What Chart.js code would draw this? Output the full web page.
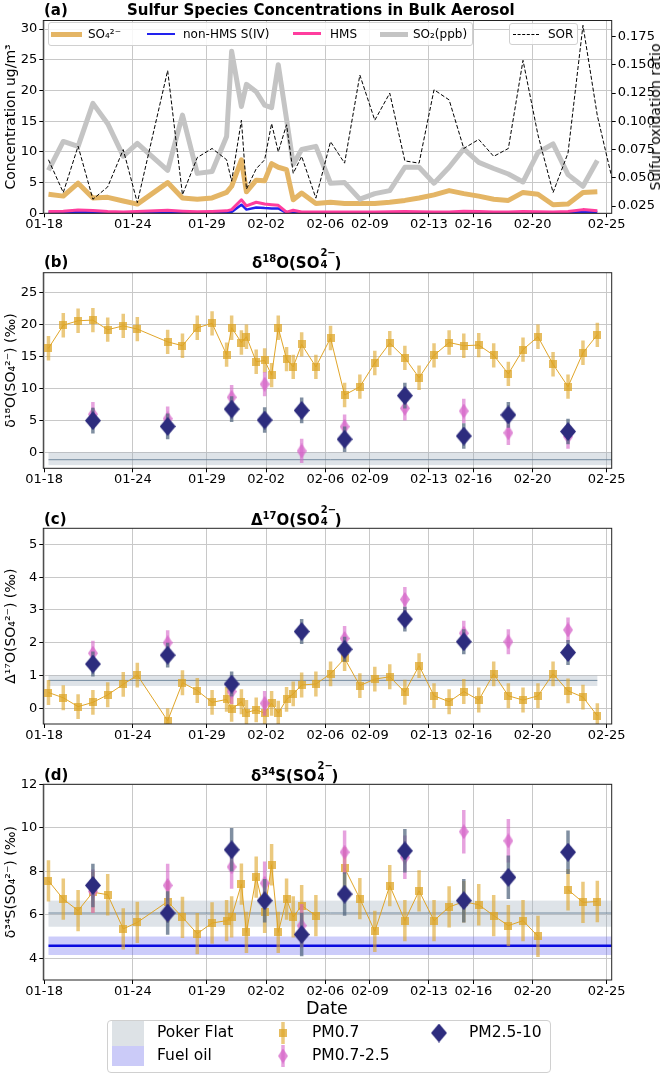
<!DOCTYPE html>
<html>
<head>
<meta charset="utf-8">
<script src="https://cdn.jsdelivr.net/npm/chart.js@4.4.1/dist/chart.umd.min.js"></script>
<style>
  body { margin: 0; background: #fff; font-family: 'DejaVu Sans', sans-serif; color: #000; }
  #page { position: relative; width: 666px; height: 1074px; overflow: hidden; }
  .cv { position: absolute; left: 0; }
  .t { position: absolute; line-height: 1; transform: translateY(-50%); white-space: nowrap; }
  .b15 { font-weight: bold; font-size: 15px; }
  .f12 { font-size: 12px; }
  .f15 { font-size: 15.5px; }
  .box { position: absolute; box-sizing: border-box; background: rgba(255,255,255,0.85); border: 1px solid #d0d0d0; border-radius: 3px; }
  .sw { position: absolute; }
  .sup { font-size: 10px; position: relative; top: -6px; }
  .stk { display: inline-block; position: relative; width: 15px; height: 1em; }
  .stk span { position: absolute; left: 1px; font-size: 10px; }
</style>
</head>
<body>
<div id="page">
  <canvas id="chA" class="cv" width="666" height="235" style="top:0"></canvas>
  <canvas id="chB" class="cv" width="666" height="235" style="top:250px"></canvas>
  <canvas id="chC" class="cv" width="666" height="235" style="top:505px"></canvas>
  <canvas id="chD" class="cv" width="666" height="250" style="top:760px"></canvas>

  <!-- panel titles -->
  <div class="t b15" style="left:44px;top:10px">(a)</div>
  <div class="t b15" style="left:127px;top:10px">Sulfur Species Concentrations in Bulk Aerosol</div>
  <div class="t b15" style="left:44px;top:262px">(b)</div>
  <div class="t b15" style="left:252px;top:262px">δ<span class="sup">18</span>O(SO<span class="stk"><span style="top:-5px">2−</span><span style="top:7px">4</span></span>)</div>
  <div class="t b15" style="left:44px;top:519px">(c)</div>
  <div class="t b15" style="left:251px;top:519px">Δ<span class="sup">17</span>O(SO<span class="stk"><span style="top:-5px">2−</span><span style="top:7px">4</span></span>)</div>
  <div class="t b15" style="left:44px;top:775px">(d)</div>
  <div class="t b15" style="left:251px;top:775px">δ<span class="sup">34</span>S(SO<span class="stk"><span style="top:-5px">2−</span><span style="top:7px">4</span></span>)</div>

  <!-- right axis label of panel (a) -->
  <div class="t" style="left:655px;top:117px;font-size:14px;transform:translate(-50%,-50%) rotate(-90deg)">Sulfur oxidation ratio</div>

  <!-- legend of panel (a) -->
  <div class="box" style="left:48px;top:22px;width:425px;height:24px"></div>
  <div class="sw" style="left:51px;top:31.5px;width:31px;height:5px;background:#e4b565"></div>
  <div class="t f12" style="left:88px;top:34px">SO₄²⁻</div>
  <div class="sw" style="left:147px;top:32.5px;width:28px;height:2.5px;background:#2222ee"></div>
  <div class="t f12" style="left:183px;top:34px">non-HMS S(IV)</div>
  <div class="sw" style="left:293px;top:32px;width:28px;height:3px;background:#ff3d9e"></div>
  <div class="t f12" style="left:330px;top:34px">HMS</div>
  <div class="sw" style="left:380px;top:31.5px;width:28px;height:5px;background:#c4c4c4"></div>
  <div class="t f12" style="left:413px;top:34px">SO₂(ppb)</div>
  <div class="box" style="left:509px;top:23px;width:69px;height:22px"></div>
  <div class="sw" style="left:513px;top:33.5px;width:26px;height:0;border-top:1px dashed #000"></div>
  <div class="t f12" style="left:548px;top:34px">SOR</div>

  <!-- x label and bottom legend -->
  <div class="t" style="left:306px;top:1009px;font-size:17.5px">Date</div>
  <div class="box" style="left:107px;top:1020px;width:444px;height:53px;border-radius:4px"></div>
  <div class="sw" style="left:112px;top:1021px;width:32px;height:25px;background:#dde2e6"></div>
  <div class="sw" style="left:112px;top:1046px;width:32px;height:20px;background:#cbcbf8"></div>
  <div class="t f15" style="left:157px;top:1033px">Poker Flat</div>
  <div class="t f15" style="left:157px;top:1056px">Fuel oil</div>
  <canvas id="lgFine" width="24" height="26" style="position:absolute;left:271px;top:1020px"></canvas>
  <canvas id="lgMid" width="24" height="26" style="position:absolute;left:271px;top:1043px"></canvas>
  <canvas id="lgCoarse" width="24" height="26" style="position:absolute;left:427px;top:1020px"></canvas>
  <div class="t f15" style="left:312px;top:1033px">PM0.7</div>
  <div class="t f15" style="left:312px;top:1056px">PM0.7-2.5</div>
  <div class="t f15" style="left:469px;top:1033px">PM2.5-10</div>
</div>

<script>
// ---- data (x = days after 01-18) ----
const DAYS = [0.3, 1.3, 2.3, 3.3, 4.3, 5.35, 6.3, 8.35, 9.35, 10.35, 11.35, 12.33, 12.67, 13.33, 13.67,
  14.33, 14.9, 15.37, 15.82, 16.38, 16.83, 17.4, 18.36, 19.35, 20.3, 21.33, 22.34, 23.35, 24.37, 25.33,
  26.34, 27.36, 28.35, 29.36, 30.37, 31.36, 32.35, 33.36, 34.38, 35.39, 36.4, 37.37, 38.37];
const TICK_DAYS = [0, 6, 11, 15, 19, 22, 26, 29, 33, 38];
const TICK_LABELS = ['01-18', '01-24', '01-29', '02-02', '02-06', '02-09', '02-13', '02-16', '02-20', '02-25'];

// panel (a)
const SO4 = [3.1, 2.8, 4.9, 2.5, 2.6, 2.0, 1.5, 5.0, 2.5, 2.3, 2.5, 3.4, 4.4, 8.7, 3.5, 5.4, 5.3, 8.1, 7.5, 7.1,
  2.2, 3.3, 1.6, 1.8, 1.6, 1.6, 1.6, 1.8, 2.1, 2.5, 3.0, 3.7, 3.2, 2.8, 2.3, 2.1, 3.4, 3.1, 1.4, 1.5, 3.4, 3.5, null];
const NON_HMS = [0.1, 0.1, 0.2, 0.15, 0.05, 0.05, 0.1, 0.15, 0.1, 0.05, 0.05, 0.1, 0.2, 1.4, 0.6, 0.95, 0.85, 0.8, 0.8, 0.05,
  0.2, 0.05, 0.05, 0.05, 0.05, 0.05, 0.05, 0.05, 0.1, 0.05, 0.05, 0.05, 0.1, 0.1, 0.05, 0.05, 0.1, 0.05, 0.05, 0.1, 0.3, 0.2, null];
const HMS = [0.3, 0.35, 0.55, 0.45, 0.3, 0.2, 0.3, 0.5, 0.35, 0.25, 0.3, 0.4, 0.6, 2.2, 1.2, 1.8, 1.5, 1.4, 1.3, 0.2,
  0.5, 0.2, 0.2, 0.2, 0.2, 0.2, 0.2, 0.25, 0.3, 0.25, 0.2, 0.2, 0.35, 0.3, 0.2, 0.2, 0.3, 0.25, 0.2, 0.3, 0.6, 0.4, null];
const SO2 = [7.0, 11.7, 10.9, 17.9, 14.6, 9.3, 11.4, 7.0, 16.0, 6.5, 6.8, 12.5, 26.4, 17.4, 21.0, 19.8, 17.6, 17.2, 24.2, 15.3,
  8.0, 10.4, 10.9, 4.9, 5.0, 2.3, 3.2, 3.7, 7.5, 7.5, 4.9, 7.5, 10.5, 8.3, 7.3, 6.4, 5.1, 9.9, 11.3, 6.3, 4.4, 8.6, null];
const SOR = [0.066, 0.037, 0.078, 0.031, 0.042, 0.075, 0.028, 0.145, 0.035, 0.068, 0.076, 0.066, 0.047, 0.101, 0.040,
  0.058, 0.066, 0.098, 0.073, 0.097, 0.054, 0.069, 0.032, 0.082, 0.063, 0.141, 0.101, 0.125, 0.065, 0.063,
  0.128, 0.119, 0.076, 0.084, 0.069, 0.076, 0.154, 0.088, 0.037, 0.072, 0.185, 0.105, 0.049];

// PM0.7 isotopes (same sampling days)
const PM07_D18O = [16.3, 19.9, 20.6, 20.7, 19.2, 19.8, 19.3, 17.3, 16.7, 19.5, 20.2, 15.3, 19.5, 17.2, 18.1, 14.2, 14.4,
  12.1, 19.5, 14.6, 13.4, 16.9, 13.4, 17.9, 9.0, 10.3, 14.0, 17.1, 14.8, 11.7, 15.2, 17.2, 16.7, 16.8, 15.2, 12.3,
  16.1, 18.1, 13.8, 10.3, 15.6, 18.4, null];
const PM07_D17O = [0.48, 0.32, 0.05, 0.18, 0.41, 0.73, 1.01, -0.38, 0.78, 0.54, 0.18, 0.27, -0.03, 0.2, -0.13, -0.05,
  -0.15, 0.15, -0.15, 0.27, 0.44, 0.71, 0.74, 1.05, 1.52, 0.69, 0.89, 0.96, 0.49, 1.3, 0.38, 0.2, 0.51, 0.25, 1.05,
  0.38, 0.25, 0.38, 1.05, 0.53, 0.34, -0.23, null];
const PM07_D34S = [7.56, 6.72, 6.19, 7.04, 6.92, 5.35, 5.65, 6.61, 5.88, 5.13, 5.62, 5.73, 5.9, 7.41, 5.19, 7.73, 6.11,
  8.3, 5.19, 6.72, 5.9, 6.42, 5.96, null, 8.15, 6.74, 5.24, 7.34, 5.73, 7.1, 5.73, 6.36, 6.6, 6.46, 5.96, 5.5, 5.73,
  5.01, null, 7.15, 6.57, 6.61, null];

// coarse fractions
const COARSE_DAYS = [3.3, 8.35, 12.67, 14.9, 17.4, 20.3, 24.37, 28.35, 31.36, 35.39];
const PM0725_D18O = [6.0, 5.3, 8.65, 10.7, 0.27, 4.06, 6.93, 6.5, 3.1, 2.5];
const PM2510_D18O = [5.0, 4.1, 6.8, 5.1, 6.6, 2.1, 8.9, 2.6, 5.9, 3.3];
const PM0725_D17O = [1.68, 2.0, 0.51, 0.15, null, 2.13, 3.32, 2.29, 2.03, 2.39];
const PM2510_D17O = [1.35, 1.62, 0.74, null, 2.34, 1.8, 2.72, 2.03, null, 1.7];
const PM0725_D34S = [7.08, 7.35, 8.2, 7.45, 5.5, 8.88, 8.65, 9.82, 9.4, null];
const PM2510_D34S = [7.35, 6.08, 8.99, 6.65, 5.09, 6.95, 8.94, 6.65, 7.72, 8.88];

// reference ranges [low, mean, high]
const POKER_D18O = [-1.95, -1.1, 0.05];
const POKER_D17O = [0.68, 0.85, 1.0];
const POKER_D34S = [5.45, 6.08, 6.65];
const FUEL_D34S = [4.15, 4.58, 5.0];

// axis ticks
const CONC_TICKS = [0, 5, 10, 15, 20, 25, 30];
const SOR_TICKS = [0.025, 0.05, 0.075, 0.1, 0.125, 0.15, 0.175];
const D18O_TICKS = [0, 5, 10, 15, 20, 25];
const D17O_TICKS = [0, 1, 2, 3, 4, 5];
const D34S_TICKS = [4, 6, 8, 10, 12];

// ---- drawing ----
Chart.defaults.font.family = "'DejaVu Sans', sans-serif";
Chart.defaults.font.size = 13;
Chart.defaults.color = '#000';

const X_MIN = -0.05, X_MAX = 38.34;
const LEFT_W = 43.3, RIGHT_W = 54.3;
const GRID = '#c8c8c8';

function pts(xs, ys) { return xs.map((x, i) => ({ x: x, y: ys[i] })); }
function fixedTicks(vals) { return s => { s.ticks = vals.map(v => ({ value: v })); }; }

function marker(w, h, fill, shape) {
  const c = document.createElement('canvas');
  c.width = w; c.height = h;
  const g = c.getContext('2d');
  g.fillStyle = fill;
  if (shape === 'square') {
    g.fillRect(0, 0, w, h);
  } else {
    g.beginPath();
    g.moveTo(w / 2, 0); g.lineTo(w, h / 2); g.lineTo(w / 2, h); g.lineTo(0, h / 2);
    g.closePath(); g.fill();
  }
  return c;
}
const SQ_MK = marker(8, 8, 'rgba(222,165,40,0.75)', 'square');
const PINK_MK = marker(10, 15, 'rgba(214,100,200,0.75)', 'diamond');
const NAVY_MK = marker(16, 19, '#2d2c7e', 'diamond');
const FINE_ERR = 'rgba(222,165,40,0.6)';
const MID_ERR = 'rgba(214,100,200,0.6)';
const COARSE_ERR = 'rgba(85,105,130,0.75)';

// vertical error bars, drawn just before each dataset
const errorBars = {
  id: 'errorBars',
  beforeDatasetDraw(chart, args) {
    const ds = chart.data.datasets[args.index];
    if (!ds.errHalf) return;
    const { ctx, chartArea: a } = chart;
    const y = chart.scales.y;
    ctx.save();
    ctx.beginPath();
    ctx.rect(a.left, a.top, a.right - a.left, a.bottom - a.top);
    ctx.clip();
    ctx.strokeStyle = ds.errColor;
    ctx.lineWidth = 3.5;
    args.meta.data.forEach((p, i) => {
      const v = ds.data[i].y;
      if (v === null) return;
      ctx.beginPath();
      ctx.moveTo(p.x, y.getPixelForValue(v - ds.errHalf));
      ctx.lineTo(p.x, y.getPixelForValue(v + ds.errHalf));
      ctx.stroke();
    });
    ctx.restore();
  }
};

// shaded reference ranges
const bands = {
  id: 'bands',
  beforeDatasetsDraw(chart, args, opts) {
    const list = opts.list || [];
    const { ctx, chartArea: a, scales: { x, y } } = chart;
    ctx.save();
    ctx.beginPath();
    ctx.rect(a.left, a.top, a.right - a.left, a.bottom - a.top);
    ctx.clip();
    list.forEach(b => {
      const x0 = x.getPixelForValue(b.from), x1 = x.getPixelForValue(b.to);
      const yl = y.getPixelForValue(b.range[0]), ym = y.getPixelForValue(b.range[1]), yh = y.getPixelForValue(b.range[2]);
      ctx.fillStyle = b.fill;
      ctx.fillRect(x0, yh, x1 - x0, yl - yh);
      ctx.strokeStyle = b.line;
      ctx.lineWidth = b.width;
      ctx.beginPath(); ctx.moveTo(x0, ym); ctx.lineTo(x1, ym); ctx.stroke();
    });
    ctx.restore();
  }
};

// four spines
const frame = {
  id: 'frame',
  afterDraw(chart) {
    const { ctx, chartArea: a } = chart;
    ctx.save();
    ctx.strokeStyle = '#222';
    ctx.lineWidth = 1;
    ctx.strokeRect(a.left, a.top, a.right - a.left, a.bottom - a.top);
    ctx.restore();
  }
};

function xScale(h) {
  return {
    type: 'linear', min: X_MIN, max: X_MAX,
    afterBuildTicks: fixedTicks(TICK_DAYS),
    afterFit: s => { s.height = h; },
    ticks: { callback: (v, i) => TICK_LABELS[i], maxRotation: 0, autoSkip: false, padding: 0 },
    grid: { color: GRID, tickColor: '#000', tickLength: 4 },
    border: { display: false }
  };
}

function yScale(min, max, ticks, title) {
  return {
    type: 'linear', position: 'left', min: min, max: max,
    afterBuildTicks: fixedTicks(ticks),
    afterFit: s => { s.width = LEFT_W; },
    ticks: { padding: 2 },
    grid: { color: GRID, tickColor: '#000', tickLength: 4 },
    border: { display: false },
    title: { display: true, text: title, font: { size: 14 }, padding: { top: 3, bottom: 0 } }
  };
}

const basePlugins = { legend: { display: false }, tooltip: { enabled: false } };

// panel (a)
new Chart(document.getElementById('chA'), {
  type: 'line',
  data: {
    datasets: [
      { data: pts(DAYS, SOR), yAxisID: 'y1', borderColor: '#000', borderWidth: 1, borderDash: [4, 2], pointRadius: 0 },
      { data: pts(DAYS, SO2), yAxisID: 'y', borderColor: '#c4c4c4', borderWidth: 5, pointRadius: 0 },
      { data: pts(DAYS, HMS), yAxisID: 'y', borderColor: '#ff3d9e', borderWidth: 3, pointRadius: 0 },
      { data: pts(DAYS, NON_HMS), yAxisID: 'y', borderColor: '#2222ee', borderWidth: 2.5, pointRadius: 0 },
      { data: pts(DAYS, SO4), yAxisID: 'y', borderColor: '#e4b565', borderWidth: 5, pointRadius: 0 }
    ]
  },
  options: {
    responsive: false, animation: false,
    borderJoinStyle: 'round',
    layout: { padding: { top: 20.5, left: 0, right: 0, bottom: 0 } },
    plugins: basePlugins,
    elements: { line: { borderJoinStyle: 'round', tension: 0 } },
    scales: {
      x: xScale(235 - 213.3),
      y: yScale(0, 31.4, CONC_TICKS, 'Concentration ug/m³'),
      y1: {
        type: 'linear', position: 'right', min: 0.0186, max: 0.1893,
        afterBuildTicks: fixedTicks(SOR_TICKS),
        afterFit: s => { s.width = RIGHT_W; },
        ticks: { padding: 2, callback: v => v.toFixed(3) },
        grid: { drawOnChartArea: false, tickColor: '#000', tickLength: 4 },
        border: { display: false }
      }
    }
  },
  plugins: [frame]
});

function isoPanel(id, h, bottom, o) {
  return new Chart(document.getElementById(id), {
    type: 'line',
    data: {
      datasets: [
        { data: pts(COARSE_DAYS, o.coarse), showLine: false, pointStyle: NAVY_MK, pointRadius: 5,
          errHalf: o.coarseErr, errColor: COARSE_ERR },
        { data: pts(COARSE_DAYS, o.mid), showLine: false, pointStyle: PINK_MK, pointRadius: 5,
          errHalf: o.midErr, errColor: MID_ERR },
        { data: pts(DAYS, o.fine), borderColor: 'rgba(222,160,30,0.95)', borderWidth: 1, pointStyle: SQ_MK,
          pointRadius: 5, spanGaps: false, errHalf: o.fineErr, errColor: FINE_ERR }
      ]
    },
    options: {
      responsive: false, animation: false,
      layout: { padding: { top: o.top, left: 0, right: RIGHT_W, bottom: 0 } },
      plugins: Object.assign({ bands: { list: o.bands } }, basePlugins),
      elements: { line: { tension: 0 } },
      scales: {
        x: xScale(h - bottom),
        y: yScale(o.min, o.max, o.ticks, o.title)
      }
    },
    plugins: [bands, errorBars, frame]
  });
}

const POKER_FILL = 'rgba(160,176,188,0.35)';
const POKER_LINE = 'rgba(105,130,152,0.9)';

isoPanel('chB', 235, 218.3, {
  top: 22.7, min: -2.44, max: 28.1, ticks: D18O_TICKS, title: 'δ¹⁸O(SO₄²⁻) (‰)',
  fine: PM07_D18O, mid: PM0725_D18O, coarse: PM2510_D18O, fineErr: 1.9, midErr: 1.9, coarseErr: 2.0,
  bands: [{ range: POKER_D18O, from: DAYS[0], to: DAYS[DAYS.length - 1], fill: POKER_FILL, line: POKER_LINE, width: 1 }]
});
isoPanel('chC', 235, 219, {
  top: 23.3, min: -0.48, max: 5.49, ticks: D17O_TICKS, title: 'Δ¹⁷O(SO₄²⁻) (‰)',
  fine: PM07_D17O, mid: PM0725_D17O, coarse: PM2510_D17O, fineErr: 0.38, midErr: 0.38, coarseErr: 0.38,
  bands: [{ range: POKER_D17O, from: DAYS[0], to: DAYS[DAYS.length - 2], fill: POKER_FILL, line: POKER_LINE, width: 1 }]
});
isoPanel('chD', 250, 220, {
  top: 24.3, min: 3.0, max: 12.0, ticks: D34S_TICKS, title: 'δ³⁴S(SO₄²⁻) (‰)',
  fine: PM07_D34S, mid: PM0725_D34S, coarse: PM2510_D34S, fineErr: 0.95, midErr: 1.0, coarseErr: 1.0,
  bands: [
    { range: POKER_D34S, from: DAYS[0], to: DAYS[DAYS.length - 1], fill: POKER_FILL, line: POKER_LINE, width: 1 },
    { range: FUEL_D34S, from: DAYS[0], to: DAYS[DAYS.length - 1], fill: 'rgba(110,110,240,0.35)', line: '#0a0ae0', width: 2.5 }
  ]
});

// legend markers
function legendMarker(id, img, errColor) {
  const c = document.getElementById(id);
  const g = c.getContext('2d');
  if (errColor) {
    g.strokeStyle = errColor; g.lineWidth = 3.5;
    g.beginPath(); g.moveTo(c.width / 2, 2); g.lineTo(c.width / 2, c.height - 2); g.stroke();
  }
  g.drawImage(img, (c.width - img.width) / 2, (c.height - img.height) / 2);
}
legendMarker('lgFine', SQ_MK, FINE_ERR);
legendMarker('lgMid', PINK_MK, MID_ERR);
legendMarker('lgCoarse', NAVY_MK, null);
</script>
</body>
</html>
